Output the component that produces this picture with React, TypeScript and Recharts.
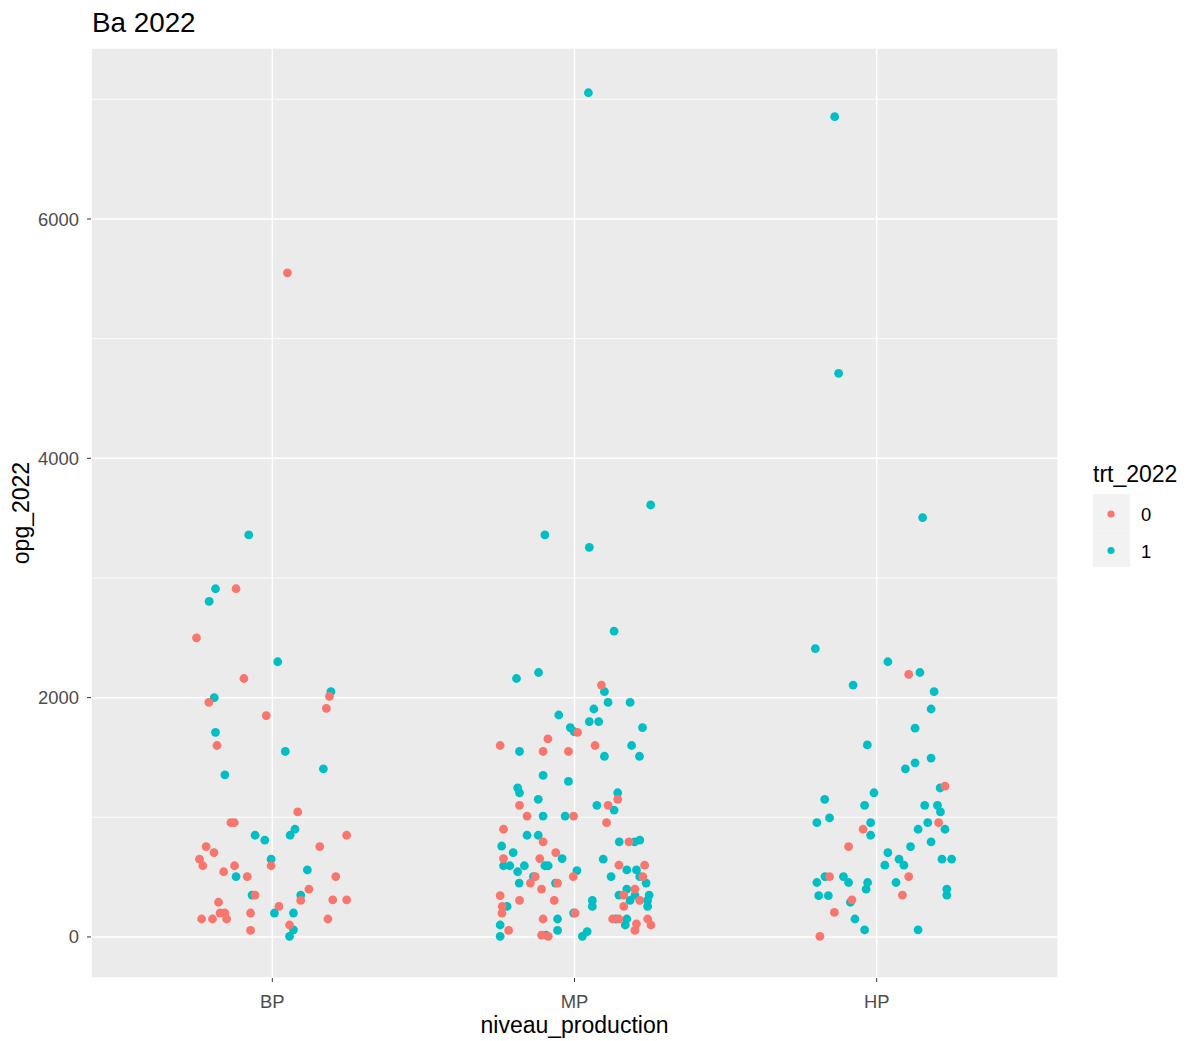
import React from "react";
import {
  ScatterChart,
  Scatter,
  XAxis,
  YAxis,
  CartesianGrid,
  ReferenceLine,
} from "recharts";

const FONT = "'Liberation Sans', Arial, sans-serif";
const RED = "#F8766D";
const TEAL = "#00BFC4";

const categories = ["BP", "MP", "HP"];
const yTicks = [0, 2000, 4000, 6000];
const yMinor = [1000, 3000, 5000, 7000];
const groups = ["0", "1"];

// [jitter, opg_2022]
const bp0: [number, number][] = [
  [0.05, 5550], [-0.12, 2910], [-0.251, 2500], [-0.094, 2160], [0.189, 2010],
  [-0.21, 1960], [0.179, 1910], [-0.02, 1850], [-0.183, 1600], [0.084, 1045],
  [-0.137, 955], [-0.126, 955], [0.246, 850], [-0.219, 755], [-0.193, 705],
  [0.157, 755], [-0.241, 650], [-0.23, 595], [-0.004, 595], [-0.125, 595],
  [-0.161, 545], [-0.083, 505], [0.21, 505], [0.121, 400], [-0.057, 350],
  [0.094, 305], [0.2, 310], [0.246, 310], [-0.178, 290], [0.022, 255],
  [-0.173, 200], [-0.157, 200], [-0.072, 200], [-0.234, 150], [-0.198, 150],
  [-0.151, 150], [0.184, 150], [-0.072, 55], [0.057, 100],
];
const bp1: [number, number][] = [
  [-0.078, 3360], [-0.188, 2910], [-0.209, 2805], [0.018, 2300], [0.194, 2050],
  [-0.192, 2000], [-0.188, 1710], [0.043, 1550], [-0.157, 1355], [0.169, 1405],
  [0.075, 900], [0.059, 850], [-0.057, 850], [-0.025, 810], [-0.004, 650],
  [0.116, 560], [-0.12, 505], [-0.067, 350], [0.094, 350], [0.007, 200],
  [0.07, 200], [0.07, 60], [0.057, 5],
];
const mp0: [number, number][] = [
  [0.089, 2105], [0.01, 1710], [-0.088, 1655], [-0.246, 1600], [-0.104, 1550],
  [-0.02, 1550], [0.068, 1600], [0.143, 1150], [-0.182, 1100], [0.111, 1100],
  [-0.157, 1010], [-0.003, 1010], [0.106, 955], [-0.235, 900], [-0.104, 795],
  [0.18, 795], [-0.062, 705], [-0.235, 655], [-0.115, 655], [-0.13, 505],
  [-0.004, 505], [-0.146, 450], [-0.056, 450], [-0.109, 400], [-0.246, 345],
  [-0.182, 305], [-0.067, 305], [-0.239, 255], [-0.24, 200], [-0.104, 150],
  [-0.218, 55], [-0.109, 15], [-0.087, 5], [0.147, 600], [0.232, 600],
  [0.226, 505], [0.2, 400], [0.163, 350], [0.216, 305], [0.163, 255],
  [0.002, 200], [0.126, 150], [0.147, 150], [0.242, 150], [0.205, 110],
  [0.253, 100], [0.2, 55],
];
const mp1: [number, number][] = [
  [0.046, 7055], [0.252, 3610], [-0.098, 3360], [0.049, 3255], [0.131, 2555],
  [-0.119, 2210], [-0.192, 2160], [0.099, 2050], [0.111, 1960], [0.184, 1960],
  [0.064, 1905], [-0.052, 1855], [0.049, 1800], [0.08, 1800], [0.225, 1750],
  [-0.014, 1750], [-0.001, 1715], [-0.182, 1550], [0.189, 1600], [0.099, 1510],
  [0.215, 1510], [-0.104, 1350], [-0.02, 1300], [-0.188, 1245], [-0.182, 1205],
  [0.143, 1205], [-0.12, 1150], [0.074, 1100], [0.131, 1060], [-0.104, 1010],
  [-0.031, 1010], [-0.157, 850], [-0.12, 850], [-0.241, 760], [0.148, 795],
  [0.199, 795], [0.216, 810], [-0.203, 705], [-0.041, 655], [-0.235, 595],
  [-0.214, 595], [-0.166, 595], [-0.098, 595], [-0.087, 595], [-0.188, 545],
  [0.008, 555], [-0.136, 505], [-0.183, 450], [-0.063, 450], [-0.223, 255],
  [-0.003, 200], [-0.056, 150], [-0.246, 100], [-0.056, 55], [-0.246, 5],
  [-0.094, 15], [0.095, 650], [0.173, 560], [0.205, 560], [0.121, 505],
  [0.216, 505], [0.237, 450], [0.173, 400], [0.147, 350], [0.2, 350],
  [0.247, 350], [0.059, 305], [0.184, 305], [0.242, 305], [0.059, 255],
  [0.242, 255], [0.137, 150], [0.173, 150], [0.168, 100], [0.042, 45],
  [0.026, 5],
];
const hp0: [number, number][] = [
  [0.106, 2195], [0.226, 1260], [0.205, 955], [-0.045, 900], [-0.093, 755],
  [-0.156, 505], [0.106, 505], [0.085, 350], [-0.082, 310], [-0.14, 205],
  [-0.188, 5],
];
const hp1: [number, number][] = [
  [-0.139, 6855], [-0.126, 4710], [0.152, 3505], [-0.203, 2410], [0.037, 2300],
  [0.143, 2210], [-0.078, 2105], [0.19, 2050], [0.18, 1905], [0.127, 1745],
  [-0.031, 1605], [0.18, 1495], [0.127, 1455], [0.095, 1405], [0.21, 1245],
  [-0.009, 1205], [-0.172, 1150], [-0.04, 1100], [0.159, 1100], [0.201, 1100],
  [0.211, 1045], [-0.156, 995], [-0.198, 955], [-0.02, 955], [0.169, 955],
  [-0.02, 850], [0.137, 900], [0.226, 900], [0.18, 795], [0.112, 755],
  [0.037, 705], [0.074, 650], [0.216, 650], [0.248, 650], [0.09, 600],
  [0.027, 600], [-0.171, 505], [-0.11, 505], [-0.198, 455], [-0.093, 455],
  [-0.03, 455], [0.064, 455], [-0.035, 400], [0.232, 400], [0.232, 350],
  [-0.192, 345], [-0.16, 345], [-0.087, 290], [-0.072, 150], [-0.04, 60],
  [0.137, 60],
];

const toPoints = (lists: [number, number][][]) =>
  lists.flatMap((list, i) => list.map(([j, y]) => ({ x: i + 1 + j, y })));

const trt0 = toPoints([bp0, mp0, hp0]);
const trt1 = toPoints([bp1, mp1, hp1]);

const dot = (color: string) => (p: any) =>
  <circle cx={p.cx} cy={p.cy} r={4.4} fill={color} />;

export default function App() {
  return (
    <div style={{ position: "absolute", left: 0, top: 0, width: 1186, height: 1041, background: "#fff" }}>
      <ScatterChart
        width={1186}
        height={1041}
        margin={{ top: 48, right: 128, bottom: 0, left: 0 }}
      >
        <CartesianGrid fill="#EBEBEB" stroke="#FFFFFF" strokeWidth={1.5} />
        {yMinor.map((v) => (
          <ReferenceLine key={v} y={v} stroke="#FFFFFF" strokeWidth={0.9} />
        ))}
        <XAxis
          type="number"
          dataKey="x"
          domain={[0.4, 3.6]}
          ticks={[1, 2, 3]}
          allowDataOverflow
          tickFormatter={(v) => categories[v - 1]}
          height={63}
          axisLine={false}
          tickSize={4}
          tickMargin={13}
          tickLine={{ stroke: "#333333" }}
          tick={{ fontSize: 18.4, fill: "#4D4D4D", fontFamily: FONT }}
        />
        <YAxis
          type="number"
          dataKey="y"
          domain={[-343, 7429]}
          ticks={yTicks}
          allowDataOverflow
          width={91}
          axisLine={false}
          tickSize={4}
          tickMargin={8}
          tickLine={{ stroke: "#333333" }}
          tick={{ fontSize: 18.4, fill: "#4D4D4D", fontFamily: FONT }}
        />
        <Scatter data={trt1} shape={dot(TEAL)} isAnimationActive={false} />
        <Scatter data={trt0} shape={dot(RED)} isAnimationActive={false} />
      </ScatterChart>
      <svg
        width={1186}
        height={1041}
        style={{ position: "absolute", left: 0, top: 0, pointerEvents: "none" }}
        fontFamily={FONT}
      >
        <text x={92} y={32} fontSize={27.8} fill="#000">Ba 2022</text>
        <text x={574.5} y={1033} fontSize={23} fill="#000" textAnchor="middle">
          niveau_production
        </text>
        <text
          x={29}
          y={513}
          fontSize={23}
          fill="#000"
          textAnchor="middle"
          transform="rotate(-90 29 513)"
        >
          opg_2022
        </text>
        <text x={1093} y={482} fontSize={23} fill="#000">trt_2022</text>
        {groups.map((g, i) => (
          <g key={g}>
            <rect x={1093} y={494 + i * 36.5} width={37} height={36.5} fill="#F2F2F2" />
            <circle cx={1111} cy={514 + i * 36.5} r={3.6} fill={i === 0 ? RED : TEAL} />
            <text x={1141} y={521 + i * 37} fontSize={18.4} fill="#000">{g}</text>
          </g>
        ))}
      </svg>
    </div>
  );
}
